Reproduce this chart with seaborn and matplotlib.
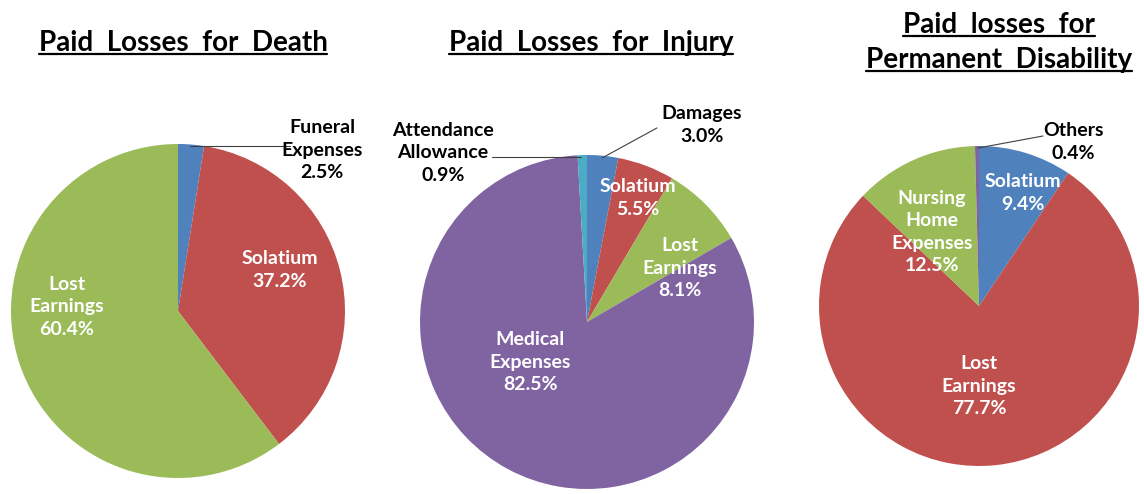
import matplotlib
matplotlib.use("Agg")
import matplotlib.pyplot as plt
import seaborn as sns
from matplotlib.lines import Line2D

# ---------------- data ----------------
death_labels = ["Funeral\nExpenses", "Solatium", "Lost\nEarnings"]
death_values = [2.5, 37.2, 60.4]

injury_labels = ["Damages", "Solatium", "Lost\nEarnings", "Medical\nExpenses", "Attendance\nAllowance"]
injury_values = [3.0, 5.5, 8.1, 82.5, 0.9]

disab_labels = ["Solatium", "Lost\nEarnings", "Nursing\nHome\nExpenses", "Others"]
disab_values = [9.4, 77.7, 12.5, 0.4]

titles = [["Paid  Losses  for  Death"],
          ["Paid  Losses  for  Injury"],
          ["Paid  losses  for", "Permanent  Disability"]]

# ---------------- style / layout ----------------
sns.set_theme(style="white")
plt.rcParams["font.family"] = ["Lato", "DejaVu Sans"]

BLUE, RED, GREEN, PURPLE, CYAN = "#4F81BD", "#C0504D", "#9BBB59", "#8064A2", "#4BACC6"

W, H, DPI = 1144, 494, 100
fig = plt.figure(figsize=(W / DPI, H / DPI), dpi=DPI)
fig.patch.set_facecolor("white")

pies = [
    dict(labels=death_labels, values=death_values, colors=[BLUE, RED, GREEN],
         center=(178, 311), r=167,
         textpos=[(0.862, 0.964), (0.611, 0.246), (-0.665, 0.024)],
         inside=[False, True, True],
         leaders=[((0.072, 0.988), (0.671, 0.988))]),
    dict(labels=injury_labels, values=injury_values, colors=[BLUE, RED, GREEN, PURPLE, CYAN],
         center=(587, 322), r=167,
         textpos=[(0.689, 1.180), (0.305, 0.743), (0.557, 0.323), (-0.341, -0.240), (-0.862, 1.012)],
         inside=[False, True, True, True, False],
         leaders=[((0.090, 0.982), (0.419, 1.162)), ((-0.036, 0.988), (-0.569, 0.988))]),
    dict(labels=disab_labels, values=disab_values, colors=[BLUE, RED, GREEN, PURPLE],
         center=(979, 306), r=160,
         textpos=[(0.275, 0.706), (0.0, -0.5), (-0.294, 0.463), (0.588, 1.025)],
         inside=[True, True, True, False],
         leaders=[((-0.006, 0.9875), (0.40, 1.0625))]),
]

LABEL_FS = 14

for p in pies:
    ax = fig.add_axes([0, 0, 1, 1])
    ax.patch.set_alpha(0)
    cx, cy = p["center"]
    cyb = H - cy
    r = p["r"]
    ax.pie(p["values"], colors=p["colors"], startangle=90, counterclock=False,
           wedgeprops=dict(linewidth=0))
    ax.set_aspect("auto")
    ax.set_xlim(-cx / r, (W - cx) / r)
    ax.set_ylim(-cyb / r, (H - cyb) / r)
    ax.axis("off")
    for (a, b) in p["leaders"]:
        ax.plot([a[0], b[0]], [a[1], b[1]], color="#404040", lw=0.8)
    for lab, val, pos, ins in zip(p["labels"], p["values"], p["textpos"], p["inside"]):
        ax.text(pos[0], pos[1], f"{lab}\n{val:.1f}%", ha="center", va="center",
                fontsize=LABEL_FS, fontweight="bold", linespacing=1.4,
                color="white" if ins else "black")

# titles
title_specs = [
    [(183, 43)],
    [(591, 43)],
    [(999, 25), (999, 60)],
]
title_texts = []
for lines, specs in zip(titles, title_specs):
    for line, (x, y) in zip(lines, specs):
        t = fig.text(x / W, 1 - y / H, line, ha="center", va="center",
                     fontsize=20, fontweight="bold", color="black")
        title_texts.append(t)

fig.canvas.draw()
renderer = fig.canvas.get_renderer()
for t in title_texts:
    bb = t.get_window_extent(renderer)
    yline = bb.y0 + 2
    fig.add_artist(Line2D([bb.x0 / W, bb.x1 / W], [yline / H, yline / H],
                          color="black", lw=1.6, transform=fig.transFigure))

fig.savefig("out.png", dpi=DPI)
